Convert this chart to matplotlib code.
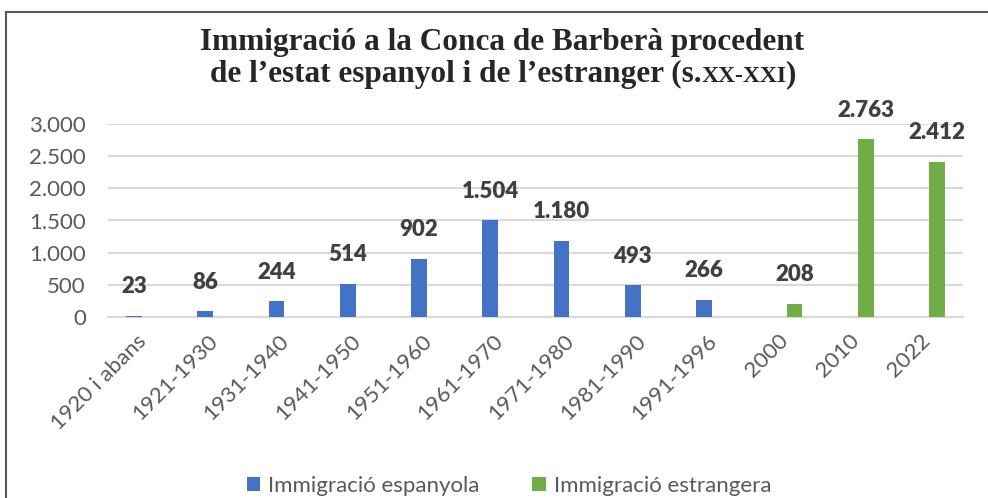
import numpy as np
import matplotlib.pyplot as plt
from matplotlib.patches import Rectangle

# data
periods = ['1920 i abans', '1921-1930', '1931-1940', '1941-1950', '1951-1960',
           '1961-1970', '1971-1980', '1981-1990', '1991-1996', '2000', '2010', '2022']
spanish = [23, 86, 244, 514, 902, 1504, 1180, 493, 266, None, None, None]
foreign = [None, None, None, None, None, None, None, None, None, 208, 2763, 2412]
yticks = [0, 500, 1000, 1500, 2000, 2500, 3000]

blue = '#4472C4'
green = '#70AD47'
grey = '#595959'

def fmt(v):
    return '{:,}'.format(v).replace(',', '.')

fig = plt.figure(figsize=(9.88, 4.98), dpi=100)
ax = fig.add_axes([108/988, 1-317/498, 855/988, 193/498])

x = np.arange(len(periods))
w = 0.22
off = 0.135
for vals, sign, col, lab in [(spanish, -1, blue, 'Immigració espanyola'),
                             (foreign, 1, green, 'Immigració estrangera')]:
    xs = [xi + sign*off for xi, v in zip(x, vals) if v is not None]
    vs = [v for v in vals if v is not None]
    bars = ax.bar(xs, vs, width=w, color=col, label=lab, zorder=3)
    for b, v in zip(bars, vs):
        ax.annotate(fmt(v), (b.get_x() + b.get_width()/2, v),
                    xytext=(0, 21), textcoords='offset points',
                    ha='center', va='center', fontsize=16, fontweight='heavy',
                    color='#404040', family='Lato')

ax.set_xlim(-0.5, len(periods) - 0.5)
ax.set_ylim(0, 3000)
ax.set_yticks(yticks)
ax.set_yticklabels([fmt(t) for t in yticks])
ax.set_xticks(x)
ax.set_xticklabels(periods, rotation=45, ha='right', va='center',
                   rotation_mode='anchor')
ax.tick_params(axis='both', length=0, labelsize=16, labelcolor=grey)
ax.tick_params(axis='x', pad=15)
ax.tick_params(axis='y', pad=16)
for lbl in ax.get_xticklabels() + ax.get_yticklabels():
    lbl.set_family('Lato')
ax.grid(axis='y', color='#d9d9d9', linewidth=1.5, zorder=0)
for s in ['top', 'right', 'left']:
    ax.spines[s].set_visible(False)
ax.spines['bottom'].set_color('#d9d9d9')
ax.spines['bottom'].set_linewidth(1.5)

leg = fig.legend(loc='center', bbox_to_anchor=(0.515, 1-486/498), ncol=2,
                 frameon=False, handlelength=0.6, handleheight=0.6,
                 handletextpad=0.35, columnspacing=2.4,
                 prop={'family': 'Lato', 'size': 16})
for t in leg.get_texts():
    t.set_color(grey)

# chart border
fig.patches.append(Rectangle((6/988, -0.1), 1.2, 1-12/498 + 0.1,
                             transform=fig.transFigure, fill=False,
                             edgecolor='#595959', linewidth=1.5))

# title
tfont = dict(family='Liberation Serif', fontweight='bold', color='#262626',
             va='baseline')
fig.text(502/988, 1-50/498, 'Immigració a la Conca de Barberà procedent',
         ha='center', fontsize=22.5, **tfont)

renderer = fig.canvas.get_renderer()
parts = [('de l’estat espanyol i de l’estranger (s.', 22.5),
         ('XX-XXI', 17), (')', 22.5)]
texts = [fig.text(0, 1-82/498, s, ha='left', fontsize=fs, **tfont)
         for s, fs in parts]
widths = [t.get_window_extent(renderer).width for t in texts]
xpos = 503 - sum(widths)/2
for t, wd in zip(texts, widths):
    t.set_x(xpos/988)
    xpos += wd

fig.savefig('out.png', dpi=100)
